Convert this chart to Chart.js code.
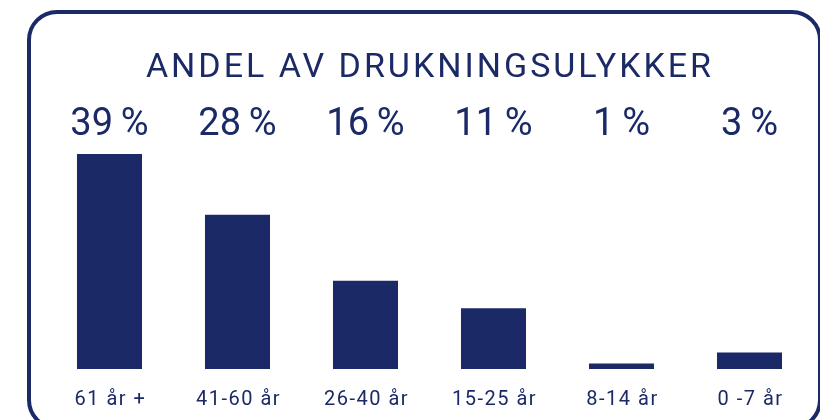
<!DOCTYPE html>
<html>
<head>
<meta charset="utf-8">
<script src="https://cdn.jsdelivr.net/npm/chart.js@4"></script>
<style>
  html, body { margin: 0; padding: 0; background: #fff; }
  #wrap { position: relative; width: 820px; height: 420px; overflow: hidden; }
  #frame {
    position: absolute; left: 27px; top: 10px; width: 795px; height: 420px;
    border: 4px solid #1b2966; border-radius: 30px; box-sizing: border-box;
  }
  canvas { position: absolute; left: 0; top: 0; }
</style>
</head>
<body>
<div id="wrap">
  <div id="frame"></div>
  <canvas id="grafico" width="820" height="420"></canvas>
</div>
<script>
const tittel = 'ANDEL AV DRUKNINGSULYKKER';
const aldersgrupper = ['61 år +', '41-60 år', '26-40 år', '15-25 år', '8-14 år', '0 -7 år'];
const andel = [39, 28, 16, 11, 1, 3];

const marine = '#1b2966';
const fontNavn = 'Roboto, "DejaVu Sans", sans-serif';

// tegner tittel, prosentverdier og aldersgrupper
const tekster = {
  id: 'tekster',
  afterDraw(chart) {
    const ctx = chart.ctx;
    const x = chart.scales.x;
    ctx.save();
    ctx.fillStyle = marine;
    ctx.textAlign = 'center';
    ctx.textBaseline = 'alphabetic';

    ctx.font = '34px ' + fontNavn;
    ctx.letterSpacing = '3px';
    ctx.fillText(tittel, 430, 77);

    ctx.font = '38px ' + fontNavn;
    ctx.letterSpacing = '0px';
    andel.forEach((v, i) => {
      ctx.fillText(v + '\u2009%', x.getPixelForValue(i), 135);
    });

    ctx.font = '20px ' + fontNavn;
    ctx.letterSpacing = '1.5px';
    aldersgrupper.forEach((t, i) => {
      ctx.fillText(t, x.getPixelForValue(i) + 1, 405);
    });
    ctx.restore();
  }
};

new Chart(document.getElementById('grafico').getContext('2d'), {
  type: 'bar',
  data: {
    labels: aldersgrupper,
    datasets: [{
      data: andel,
      backgroundColor: marine,
      categoryPercentage: 1,
      barPercentage: 0.508
    }]
  },
  options: {
    responsive: false,
    animation: false,
    layout: { padding: { left: 45.5, right: 6.5, top: 154, bottom: 51 } },
    plugins: { legend: { display: false }, tooltip: { enabled: false } },
    scales: {
      x: { display: false },
      y: { display: false, min: 0, max: 39 }
    }
  },
  plugins: [tekster]
});
</script>
</body>
</html>
